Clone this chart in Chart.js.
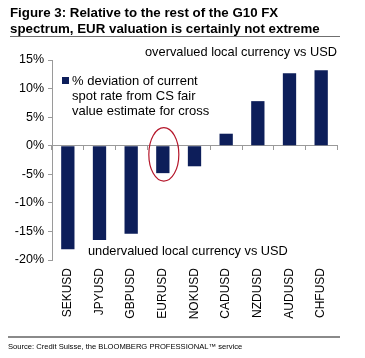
<!DOCTYPE html>
<html>
<head>
<meta charset="utf-8">
<script src="https://cdn.jsdelivr.net/npm/chart.js@4.4.1/dist/chart.umd.min.js"></script>
<style>
  html, body { margin:0; padding:0; background:#fff; }
  body { width:365px; height:358px; position:relative; overflow:hidden; font-family:"Liberation Sans", Arial, sans-serif; }
  #c { position:absolute; left:0; top:0; }
  .t { position:absolute; white-space:nowrap; color:#000; }
  #title { left:10px; top:5px; width:330px; font-weight:bold; font-size:13.3px; line-height:15.5px; border-bottom:1.5px solid #6f6f6f; padding-bottom:0; }
  #source { left:8px; top:336px; width:332px; border-top:2px solid #8a8a8a; font-size:7.6px; padding-top:4px; }
  #over { left:145px; top:44px; font-size:12.8px; }
  #under { left:88px; top:243px; font-size:12.8px; }
  #legend { left:62px; top:73px; font-size:13px; line-height:15px; }
  #legend .sq { display:inline-block; width:7px; height:7px; background:#0d1e5a; margin-right:3px; vertical-align:1px; }
  #legend .ind { padding-left:10px; }
</style>
</head>
<body>
<canvas id="c" width="365" height="358"></canvas>
<div id="title" class="t">Figure 3: Relative to the rest of the G10 FX<br>spectrum, EUR valuation is certainly not extreme</div>
<div id="over" class="t">overvalued local currency vs USD</div>
<div id="under" class="t">undervalued local currency vs USD</div>
<div id="legend" class="t"><span class="sq"></span>% deviation of current<br><span class="ind">spot rate from CS fair</span><br><span class="ind">value estimate for cross</span></div>
<div id="source" class="t">Source: Credit Suisse, the BLOOMBERG PROFESSIONAL™ service</div>
<script>
const categories = ["SEKUSD","JPYUSD","GBPUSD","EURUSD","NOKUSD","CADUSD","NZDUSD","AUDUSD","CHFUSD"];
const deviation = [-18.1, -16.5, -15.4, -4.8, -3.6, 2.1, 7.8, 12.7, 13.2];
const yTicks = [15, 10, 5, 0, -5, -10, -15, -20];
const highlighted = "EURUSD";

const ellipsePlugin = {
  id: 'ellipse',
  afterDatasetsDraw(chart) {
    const x = chart.scales.x, y = chart.scales.y;
    const i = categories.indexOf(highlighted);
    const cx = x.getPixelForValue(i) + 1;
    const top = y.getPixelForValue(0) - 18;
    const bot = y.getPixelForValue(deviation[i]) + 8;
    const ctx = chart.ctx;
    ctx.save();
    ctx.strokeStyle = '#b5162a';
    ctx.lineWidth = 1.2;
    ctx.beginPath();
    ctx.ellipse(cx, (top + bot) / 2, 15, (bot - top) / 2, 0, 0, Math.PI * 2);
    ctx.stroke();
    ctx.restore();
  }
};

new Chart(document.getElementById('c'), {
  type: 'bar',
  data: {
    labels: categories,
    datasets: [{
      data: deviation,
      backgroundColor: '#0d1e5a',
      categoryPercentage: 1,
      barPercentage: 0.42,
      xAxisID: 'x'
    }]
  },
  options: {
    responsive: false,
    animation: false,
    events: [],
    layout: { padding: { top: 60, right: 28, left: 0, bottom: 0 } },
    plugins: { legend: { display: false }, tooltip: { enabled: false } },
    scales: {
      x: {
        type: 'category',
        position: 'bottom',
        grid: { display: false, drawTicks: false },
        border: { display: false },
        ticks: {
          minRotation: 90, maxRotation: 90, padding: 8,
          color: '#000', font: { family: '"Liberation Sans", Arial, sans-serif', size: 12 }
        },
        afterFit(s) { s.height = 98; }
      },
      x2: {
        type: 'category',
        labels: categories,
        position: { y: 0 },
        offset: true,
        grid: { offset: true, drawOnChartArea: false, drawTicks: true, tickLength: 4, color: '#9a9a9a' },
        border: { display: true, color: '#9a9a9a', width: 1 },
        ticks: { display: false }
      },
      y: {
        min: -20, max: 15,
        afterBuildTicks(s) { s.ticks = yTicks.map(v => ({ value: v })); },
        grid: { drawOnChartArea: false, drawTicks: true, tickLength: 4, color: '#9a9a9a' },
        border: { display: true, color: '#9a9a9a' },
        ticks: {
          padding: 4, color: '#000',
          font: { family: '"Liberation Sans", Arial, sans-serif', size: 12.5 },
          callback: v => v + '%'
        },
        afterFit(s) { s.width = 52; }
      }
    }
  },
  plugins: [ellipsePlugin]
});
</script>
</body>
</html>
